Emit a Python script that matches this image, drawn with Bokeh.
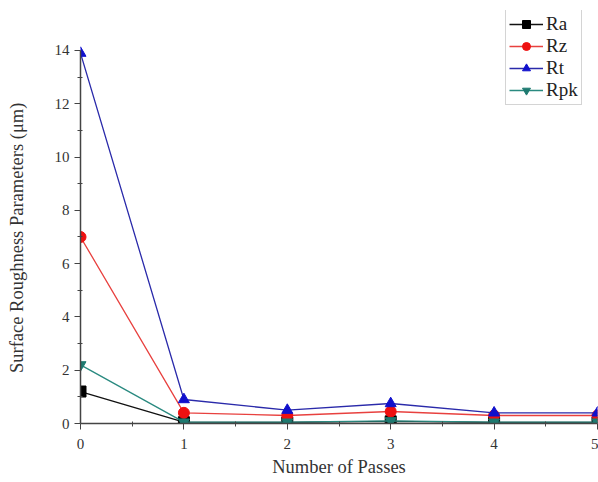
from bokeh.plotting import figure
from bokeh.models import Range1d, Legend, LegendItem, FixedTicker
from bokeh.embed import file_html
from bokeh.resources import INLINE

passes = [0, 1, 2, 3, 4, 5]
ra = [1.2, 0.05, 0.04, 0.08, 0.04, 0.04]
rz = [7.0, 0.4, 0.3, 0.45, 0.3, 0.3]
rt = [13.9, 0.9, 0.5, 0.75, 0.4, 0.4]
rpk = [2.2, 0.05, 0.05, 0.1, 0.05, 0.05]
x_ticks = [0, 1, 2, 3, 4, 5]
y_ticks = [0, 2, 4, 6, 8, 10, 12, 14]

FONT = "Liberation Serif"

p = figure(width=598, height=482, output_backend="svg", toolbar_location=None,
           x_range=Range1d(0, 5), y_range=Range1d(0, 15.5),
           min_border_left=80, min_border_right=1, min_border_top=10, min_border_bottom=59)
p.outline_line_color = None
p.xgrid.visible = False
p.ygrid.visible = False

series = [
    ("Ra", ra, "#111111", "#000000", "square"),
    ("Rz", rz, "#e8413f", "#ee1111", "circle"),
    ("Rt", rt, "#2a2aaa", "#1010cc", "triangle"),
    ("Rpk", rpk, "#2a8a80", "#1e7a70", "inverted_triangle"),
]
items = []
for name, ys, lc, mc, mk in series:
    l = p.line(passes, ys, line_color=lc, line_width=1.3)
    s = p.scatter(passes, ys, marker=mk, size=11, fill_color=mc, line_color=mc)
    items.append(LegendItem(label=name, renderers=[l, s]))

legend = Legend(items=items, location=(425, 318), label_text_font=FONT,
                label_text_font_size="19px", label_text_color="#222222",
                glyph_width=34, glyph_height=20, spacing=0, padding=3,
                label_standoff=3, border_line_color="#aaaaaa", border_line_width=1,
                background_fill_alpha=1.0, margin=0)
p.add_layout(legend, "center")

for ax in (p.xaxis[0], p.yaxis[0]):
    ax.axis_line_color = "#444444"
    ax.axis_line_width = 1.5
    ax.major_tick_line_color = "#444444"
    ax.minor_tick_line_color = "#444444"
    ax.major_tick_out = 6
    ax.major_tick_in = 0
    ax.minor_tick_out = 3
    ax.minor_tick_in = 2
    ax.major_label_text_font = FONT
    ax.major_label_text_font_size = "15px"
    ax.major_label_text_color = "#333333"
    ax.axis_label_text_font = FONT
    ax.axis_label_text_font_size = "18.5px"
    ax.axis_label_text_font_style = "normal"
    ax.axis_label_text_color = "#333333"

p.xaxis[0].ticker = FixedTicker(ticks=x_ticks, minor_ticks=[0.5, 1.5, 2.5, 3.5, 4.5])
p.yaxis[0].ticker = FixedTicker(ticks=y_ticks, minor_ticks=[1, 3, 5, 7, 9, 11, 13])
p.yaxis[0].bounds = (0, 14)
p.xaxis[0].axis_label = "Number of Passes"
p.xaxis[0].major_label_standoff = 9
p.xaxis[0].axis_label_standoff = 5
# trailing no-break spaces push the rotated label down toward the axis' bounded centre
p.yaxis[0].axis_label = "Surface Roughness Parameters (\u03bcm)" + "\u00a0" * 9
p.yaxis[0].axis_label_standoff = 25

open("out.html", "w").write(file_html(p, INLINE))
